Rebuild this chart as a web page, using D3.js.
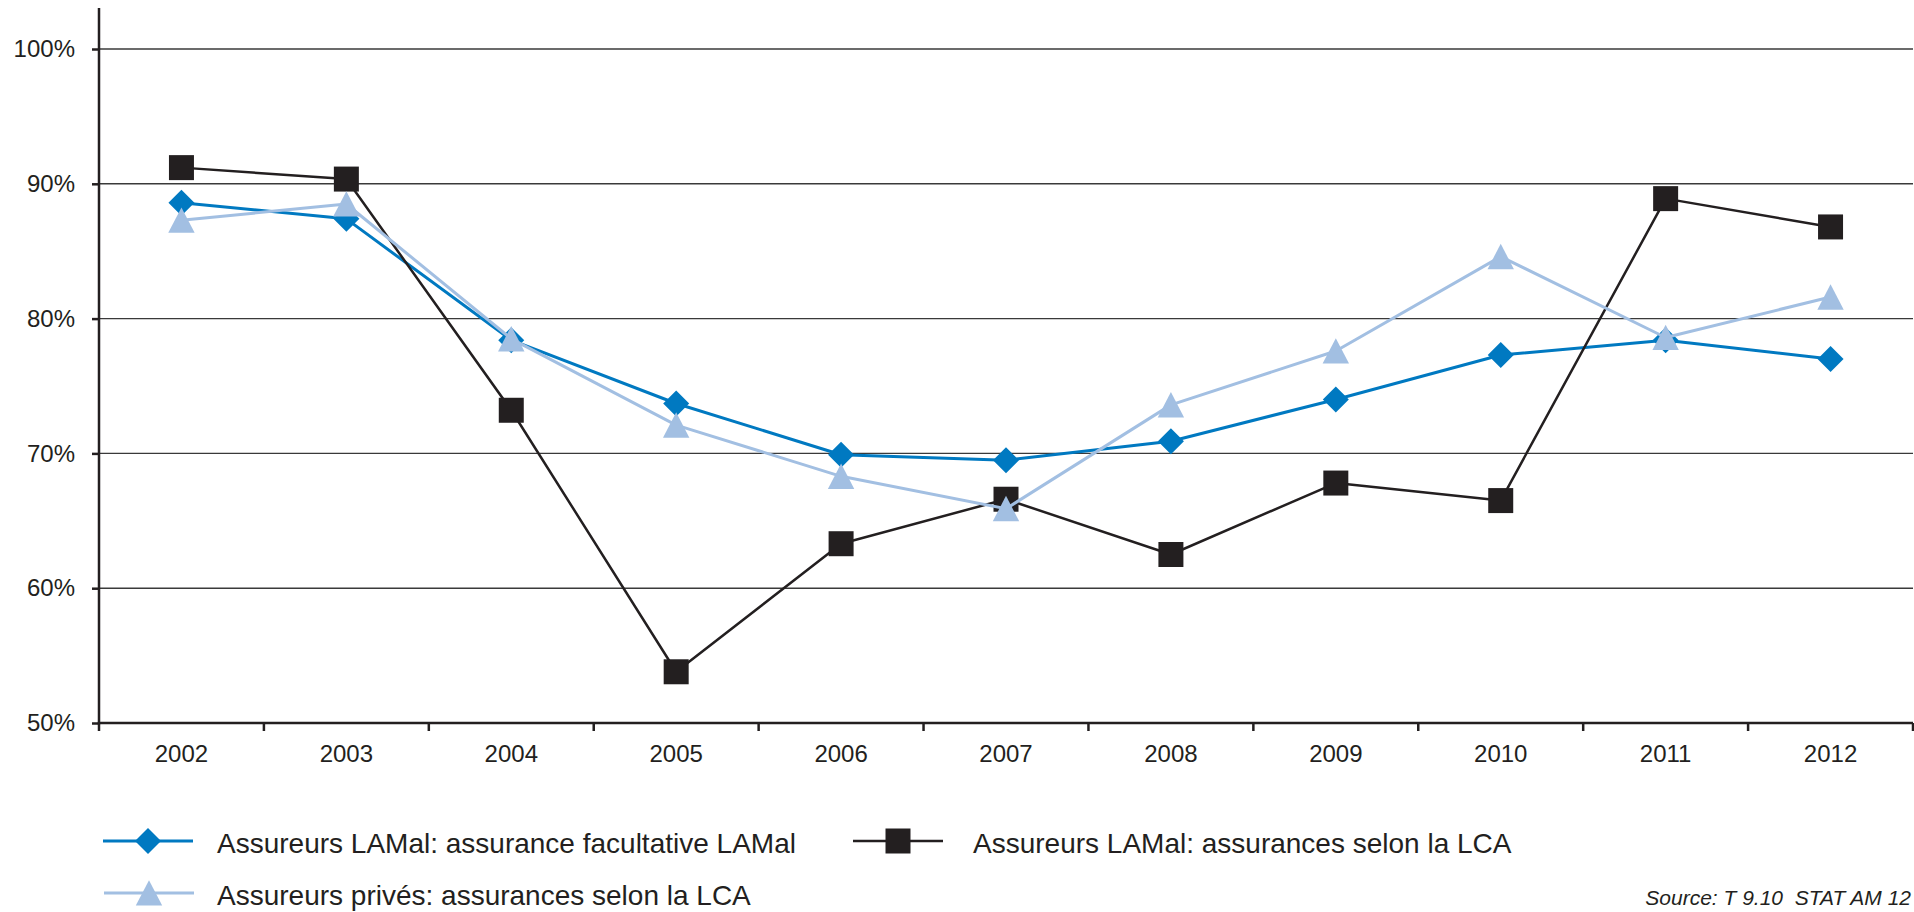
<!DOCTYPE html>
<html>
<head>
<meta charset="utf-8">
<script src="https://cdn.jsdelivr.net/npm/d3@7"></script>
<style>
  html, body { margin: 0; padding: 0; background: #fff; }
  svg { display: block; font-family: "Liberation Sans", Arial, Helvetica, sans-serif; }
</style>
</head>
<body>
<svg id="chart" width="1914" height="912"></svg>
<script>
// ---- data ----
const years = ["2002","2003","2004","2005","2006","2007","2008","2009","2010","2011","2012"];
const lamalFacultative = [88.6, 87.4, 78.4, 73.7, 69.9, 69.5, 70.9, 74.0, 77.3, 78.4, 77.0];
const lamalLCA         = [91.2, 90.35, 73.2, 53.8, 63.3, 66.6, 62.5, 67.8, 66.5, 88.9, 86.8];
const privesLCA        = [87.3, 88.5, 78.5, 72.1, 68.3, 65.9, 73.6, 77.6, 84.6, 78.6, 81.6];
const yTicks = [50, 60, 70, 80, 90, 100];
const seriesNames = [
  "Assureurs LAMal: assurance facultative LAMal",
  "Assureurs LAMal: assurances selon la LCA",
  "Assureurs privés: assurances selon la LCA"
];
const sourceText = "Source: T 9.10  STAT AM 12";

(function () {
// ---- layout ----
const svg = d3.select("#chart");
const plotLeft = 99, plotRight = 1913, plotTop = 49, plotBottom = 723;
const textColor = "#231f20";

const x = d3.scaleBand().domain(years).range([plotLeft, plotRight]).padding(0);
const y = d3.scaleLinear().domain([50, 100]).range([plotBottom, plotTop]);

const series = [
  { name: seriesNames[0], values: lamalFacultative, color: "#0079c1", width: 3, marker: "diamond" },
  { name: seriesNames[1], values: lamalLCA, color: "#231f20", width: 2.5, marker: "square" },
  { name: seriesNames[2], values: privesLCA, color: "#a2bfe2", width: 3, marker: "triangle" }
];

// gridlines
svg.append("g").selectAll("line")
  .data(yTicks.filter(d => d > 50))
  .join("line")
  .attr("x1", plotLeft).attr("x2", plotRight)
  .attr("y1", d => y(d)).attr("y2", d => y(d))
  .attr("stroke", "#3a3a3a").attr("stroke-width", 1.4);

// y axis
const yAxis = d3.axisLeft(y).tickValues(yTicks).tickSize(7).tickPadding(17)
  .tickFormat(d => d + "%");
const gy = svg.append("g").attr("transform", `translate(${plotLeft},0)`).call(yAxis);
gy.select(".domain").remove();
gy.selectAll(".tick line").attr("stroke", textColor).attr("stroke-width", 2.5);
gy.selectAll(".tick text").attr("fill", textColor).attr("font-size", 24)
  .attr("font-family", '"Liberation Sans", Arial, sans-serif');
svg.append("line").attr("x1", plotLeft).attr("x2", plotLeft).attr("y1", 8).attr("y2", plotBottom + 1.2)
  .attr("stroke", textColor).attr("stroke-width", 2.5);

// x axis
const gx = svg.append("g").attr("transform", `translate(0,${plotBottom})`)
  .call(d3.axisBottom(x).tickSize(0).tickPadding(22));
gx.select(".domain").remove();
gx.selectAll(".tick text").attr("fill", textColor).attr("font-size", 24)
  .attr("font-family", '"Liberation Sans", Arial, sans-serif');
svg.append("line").attr("x1", plotLeft - 1.2).attr("x2", plotRight).attr("y1", plotBottom).attr("y2", plotBottom)
  .attr("stroke", textColor).attr("stroke-width", 2.5);
// boundary ticks
const boundaries = years.map(d => x(d)).concat([x(years[years.length - 1]) + x.bandwidth()]);
svg.append("g").selectAll("line").data(boundaries).join("line")
  .attr("x1", d => d).attr("x2", d => d)
  .attr("y1", plotBottom).attr("y2", plotBottom + 8)
  .attr("stroke", textColor).attr("stroke-width", 2.5);

// marker paths
function markerPath(type) {
  if (type === "diamond") return "M0,-13L13,0L0,13L-13,0Z";
  if (type === "square") return "M-12.5,-12.5H12.5V12.5H-12.5Z";
  return "M0,-12.8L13.2,12.6L-13.2,12.6Z";
}

const line = d3.line().x((d, i) => x(years[i]) + x.bandwidth() / 2).y(d => y(d));

series.forEach(s => {
  const g = svg.append("g");
  g.append("path").datum(s.values).attr("d", line)
    .attr("fill", "none").attr("stroke", s.color).attr("stroke-width", s.width)
    .attr("stroke-linejoin", "round");
  g.selectAll("path.m").data(s.values).join("path").attr("class", "m")
    .attr("d", markerPath(s.marker))
    .attr("transform", (d, i) => `translate(${x(years[i]) + x.bandwidth() / 2},${y(d)})`)
    .attr("fill", s.color);
});

// legend
const legendItems = [
  { s: series[0], lx: 103, ly: 841, tx: 217 },
  { s: series[1], lx: 853, ly: 841, tx: 973 },
  { s: series[2], lx: 104, ly: 893, tx: 217 }
];
legendItems.forEach(it => {
  const g = svg.append("g");
  g.append("line").attr("x1", it.lx).attr("x2", it.lx + 90).attr("y1", it.ly).attr("y2", it.ly)
    .attr("stroke", it.s.color).attr("stroke-width", it.s.width);
  g.append("path").attr("d", markerPath(it.s.marker))
    .attr("transform", `translate(${it.lx + 45},${it.ly})`).attr("fill", it.s.color);
  g.append("text").attr("x", it.tx).attr("y", it.ly + 12)
    .attr("font-size", 28).attr("fill", textColor).text(it.s.name);
});

// source
svg.append("text").attr("x", 1911).attr("y", 905).attr("text-anchor", "end")
  .attr("font-size", 21).attr("font-style", "italic").attr("fill", textColor)
  .style("white-space", "pre").text(sourceText);
})();
</script>
</body>
</html>
